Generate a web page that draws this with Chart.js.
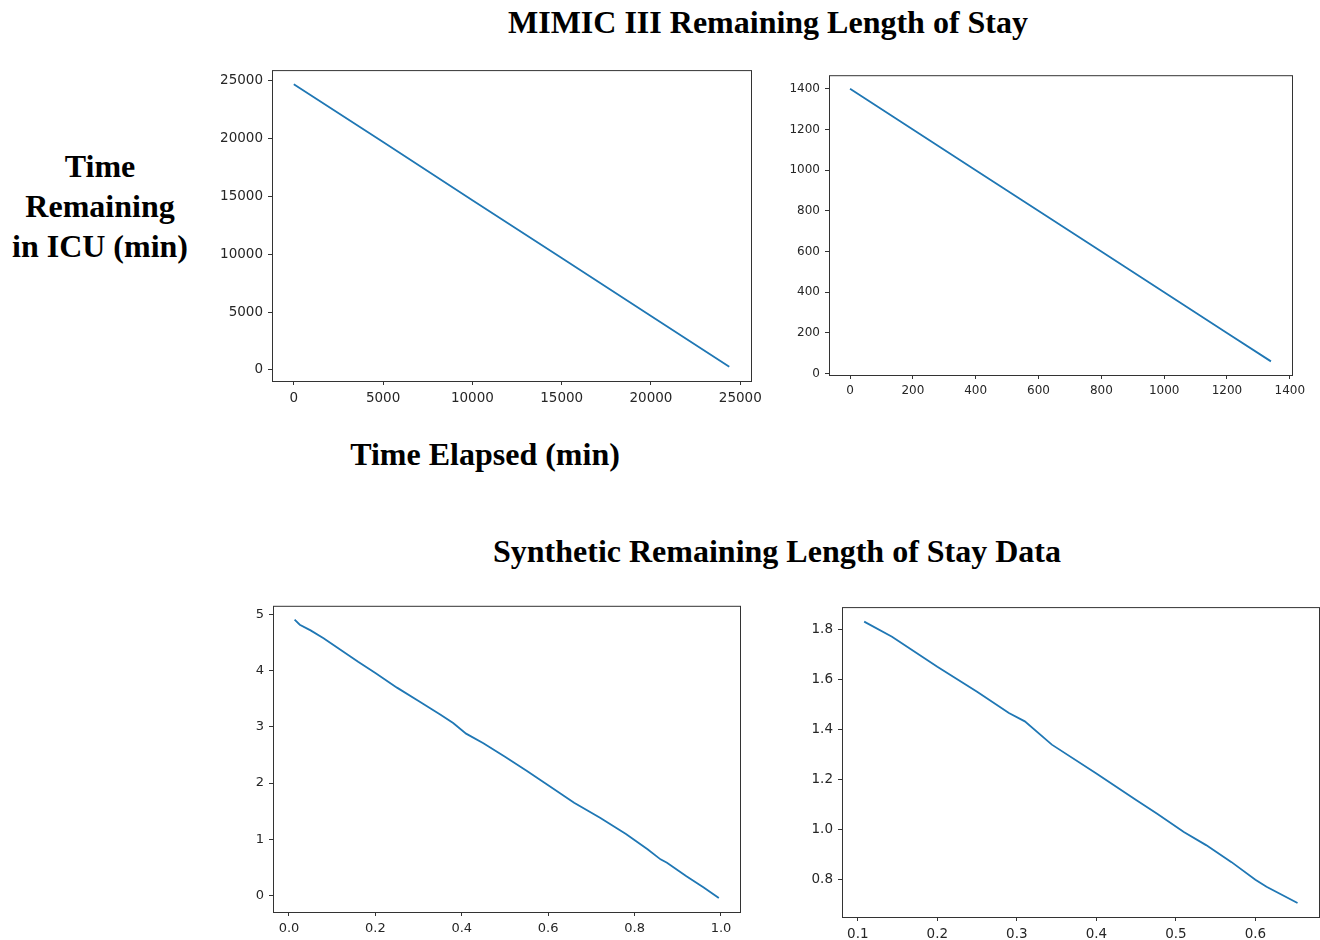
<!DOCTYPE html>
<html>
<head>
<meta charset="utf-8">
<script src="https://cdn.jsdelivr.net/npm/chart.js@4.4.0/dist/chart.umd.min.js"></script>
<style>
  html, body { margin: 0; padding: 0; background: #fff; overflow: hidden; }
  body { width: 1320px; height: 940px; position: relative; }
  .title { position: absolute; font-family: "Liberation Serif", "Times New Roman", serif; font-weight: bold; font-size: 32px; color: #000; text-align: center; line-height: 40px; white-space: nowrap; }
  canvas { position: absolute; }
</style>
</head>
<body>
<div class="title" style="left:368px; top:2px; width:800px;">MIMIC III Remaining Length of Stay</div>
<div class="title" style="left:0px; top:146px; width:200px;">Time<br>Remaining<br>in ICU (min)</div>
<div class="title" style="left:285px; top:434px; width:400px;">Time Elapsed (min)</div>
<div class="title" style="left:377px; top:531px; width:800px;">Synthetic Remaining Length of Stay Data</div>

<canvas id="mimicA"></canvas>
<canvas id="mimicB"></canvas>
<canvas id="synthA"></canvas>
<canvas id="synthB"></canvas>

<script>
// MIMIC III, first stay (minutes)
const mimicAElapsed = [0, 5000, 10000, 15000, 20000, 24383];
const mimicARemaining = [24656, 19660, 14650, 9660, 4660, 273];
const mimicAXTicks = [0, 5000, 10000, 15000, 20000, 25000];
const mimicAYTicks = [0, 5000, 10000, 15000, 20000, 25000];

// MIMIC III, second stay (minutes)
const mimicBElapsed = [0, 400, 800, 1200, 1340];
const mimicBRemaining = [1400, 1000, 600, 200, 60];
const mimicBXTicks = [0, 200, 400, 600, 800, 1000, 1200, 1400];
const mimicBYTicks = [0, 200, 400, 600, 800, 1000, 1200, 1400];

// synthetic, first series
const synthAElapsed = [0.013, 0.025, 0.05, 0.08, 0.12, 0.16, 0.2, 0.25, 0.3, 0.35, 0.38, 0.41,
  0.45, 0.5, 0.55, 0.6, 0.66, 0.72, 0.78, 0.83, 0.86, 0.875, 0.92, 0.96, 0.995];
const synthARemaining = [4.91, 4.82, 4.72, 4.58, 4.37, 4.16, 3.96, 3.70, 3.46, 3.22, 3.07, 2.88,
  2.71, 2.47, 2.22, 1.96, 1.65, 1.38, 1.09, 0.82, 0.64, 0.58, 0.34, 0.14, -0.05];
const synthAXTicks = [0, 0.2, 0.4, 0.6, 0.8, 1.0];
const synthAYTicks = [0, 1, 2, 3, 4, 5];

// synthetic, second series
const synthBElapsed = [0.108, 0.143, 0.2, 0.25, 0.29, 0.31, 0.344, 0.4, 0.45, 0.476, 0.51, 0.538,
  0.57, 0.6, 0.614, 0.653];
const synthBRemaining = [1.83, 1.77, 1.65, 1.55, 1.465, 1.432, 1.339, 1.224, 1.118, 1.064, 0.99, 0.938,
  0.87, 0.80, 0.772, 0.707];
const synthBXTicks = [0.1, 0.2, 0.3, 0.4, 0.5, 0.6];
const synthBYTicks = [0.8, 1.0, 1.2, 1.4, 1.6, 1.8];

// room kept around each plot box so tick labels never shrink it
const AXIS_W = 70, AXIS_H = 30, PAD_TOP = 12, PAD_RIGHT = 32;

const frameBox = {
  id: "frameBox",
  afterDraw(chart) {
    const a = chart.chartArea, ctx = chart.ctx;
    ctx.save();
    ctx.strokeStyle = "#333";
    ctx.lineWidth = 1;
    ctx.strokeRect(a.left + 0.5, a.top + 0.5, a.right - a.left, a.bottom - a.top);
    ctx.restore();
  }
};

function axis(min, max, ticks, digits, fontSize, fit) {
  return {
    type: "linear",
    min: min,
    max: max,
    border: { display: false },
    grid: { display: true, drawOnChartArea: false, drawTicks: true, tickLength: 4, color: "#333" },
    ticks: {
      autoSkip: false,
      maxRotation: 0,
      padding: 5,
      color: "#262626",
      font: { family: "DejaVu Sans", size: fontSize },
      callback: (v) => Number(v).toFixed(digits)
    },
    afterBuildTicks: (scale) => { scale.ticks = ticks.map((v) => ({ value: v })); },
    afterFit: fit
  };
}

function drawPanel(id, box, xs, ys, xr, yr, xTicks, yTicks, digits, fontSize) {
  const cv = document.getElementById(id);
  const w = box.right - box.left + AXIS_W + PAD_RIGHT;
  const h = box.bottom - box.top + AXIS_H + PAD_TOP;
  cv.style.left = (box.left - AXIS_W) + "px";
  cv.style.top = (box.top - PAD_TOP) + "px";
  cv.style.width = w + "px";
  cv.style.height = h + "px";
  cv.width = w;
  cv.height = h;
  return new Chart(cv, {
    type: "line",
    data: {
      datasets: [{
        data: xs.map((x, i) => ({ x: x, y: ys[i] })),
        borderColor: "#1f77b4",
        borderWidth: 1.8,
        pointRadius: 0,
        fill: false,
        tension: 0
      }]
    },
    options: {
      responsive: false,
      animation: false,
      layout: { padding: { top: PAD_TOP, right: PAD_RIGHT, left: 0, bottom: 0 } },
      plugins: { legend: { display: false }, tooltip: { enabled: false } },
      scales: {
        x: axis(xr[0], xr[1], xTicks, digits[0], fontSize, (s) => { s.height = AXIS_H; }),
        y: axis(yr[0], yr[1], yTicks, digits[1], fontSize, (s) => { s.width = AXIS_W; })
      }
    },
    plugins: [frameBox]
  });
}

drawPanel("mimicA", { left: 272, top: 69, right: 751, bottom: 381 },
  mimicAElapsed, mimicARemaining, [-1220, 25600], [-950, 25870], mimicAXTicks, mimicAYTicks, [0, 0], 13.5);
drawPanel("mimicB", { left: 829, top: 75, right: 1292, bottom: 375 },
  mimicBElapsed, mimicBRemaining, [-67, 1407], [-7, 1467], mimicBXTicks, mimicBYTicks, [0, 0], 12);
drawPanel("synthA", { left: 273, top: 605, right: 740, bottom: 912 },
  synthAElapsed, synthARemaining, [-0.037, 1.044], [-0.298, 5.158], synthAXTicks, synthAYTicks, [1, 0], 13);
drawPanel("synthB", { left: 842, top: 606, right: 1319, bottom: 917 },
  synthBElapsed, synthBRemaining, [0.0801, 0.680], [0.651, 1.888], synthBXTicks, synthBYTicks, [1, 1], 13.5);
</script>
</body>
</html>
